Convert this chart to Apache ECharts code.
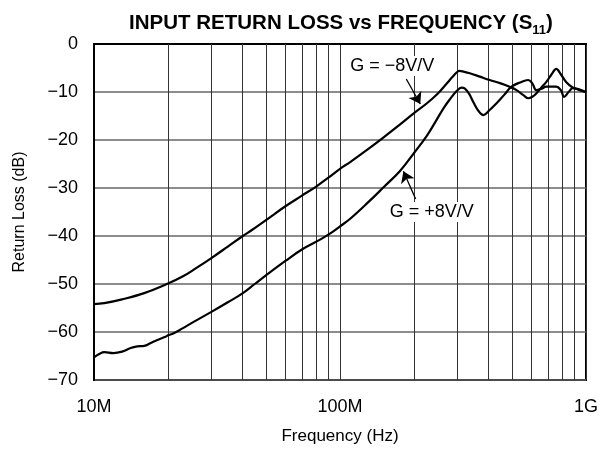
<!DOCTYPE html>
<html>
<head>
<meta charset="utf-8">
<script src="https://cdn.jsdelivr.net/npm/echarts@6/dist/echarts.min.js"></script>
<style>
html,body{margin:0;padding:0;background:#fff;}
#chart{width:601px;height:451px;}
</style>
</head>
<body>
<div id="chart"></div>
<script>
// G = -8V/V curve
var freqMinus8 = [10e6, 11e6, 13e6, 16e6, 20e6, 23e6, 26e6, 30e6, 35e6, 40e6, 44e6, 50e6, 60e6, 70e6, 80e6, 90e6, 100e6, 110e6, 130e6, 150e6, 175e6, 200e6, 225e6, 250e6, 270e6, 285e6, 297e6, 305e6, 315e6, 337e6, 370e6, 406e6, 450e6, 489e6, 522e6, 555e6, 583e6, 605e6, 628e6, 660e6, 690e6, 725e6, 757e6, 790e6, 830e6, 880e6, 930e6, 1000e6];
var rlMinus8 = [-54.2, -54.0, -53.2, -51.9, -49.9, -48.4, -46.7, -44.6, -42.2, -40.1, -38.7, -36.7, -33.8, -31.6, -29.7, -27.8, -26.0, -24.6, -21.9, -19.5, -16.8, -14.4, -12.4, -10.3, -8.4, -7.0, -6.0, -5.6, -5.7, -6.1, -6.8, -7.5, -8.2, -8.9, -9.6, -10.6, -11.3, -11.0, -10.3, -9.0, -7.9, -6.3, -5.2, -6.3, -7.9, -9.0, -9.5, -10];
// G = +8V/V curve
var freqPlus8 = [10e6, 10.5e6, 11e6, 12e6, 13e6, 14e6, 15e6, 16e6, 17e6, 18e6, 19.5e6, 20e6, 21e6, 22.8e6, 25e6, 30e6, 35e6, 40e6, 45e6, 50e6, 60e6, 70e6, 84e6, 93e6, 100e6, 110e6, 130e6, 150e6, 175e6, 200e6, 225e6, 247e6, 265e6, 280e6, 298e6, 312e6, 322e6, 335e6, 349e6, 365e6, 383e6, 405e6, 434e6, 465e6, 498e6, 540e6, 582e6, 605e6, 628e6, 660e6, 690e6, 757e6, 790e6, 815e6, 850e6, 883e6, 930e6, 1000e6];
var rlPlus8 = [-65.3, -64.6, -64.2, -64.4, -64.1, -63.4, -63.0, -62.9, -62.3, -61.7, -61.0, -60.7, -60.3, -59.3, -58.1, -55.8, -53.8, -52.0, -50.0, -48.2, -45.2, -42.8, -40.6, -39.2, -38.0, -36.4, -33.0, -29.9, -26.5, -22.7, -19.2, -15.8, -13.2, -11.5, -9.8, -9.1, -9.3, -10.4, -12.2, -13.9, -14.8, -13.8, -12.3, -10.6, -8.9, -8.0, -7.5, -8.2, -9.6, -9.3, -8.9, -8.9, -9.6, -11.0, -10.0, -9.2, -9.4, -10];
// minor vertical grid lines
var minorFreqs = [20e6, 30e6, 40e6, 50e6, 60e6, 70e6, 80e6, 90e6, 200e6, 300e6, 400e6, 500e6, 600e6, 700e6, 800e6, 900e6];
// x tick labels
var xTickValues = [10e6, 100e6, 1000e6];
var xTickLabels = ['10M', '100M', '1G'];
// annotations (data coordinates)
var labelMinus8 = {text: 'G = \u22128V/V', at: [163e6, -4.6], arrowFrom: [186e6, -7.3], arrowTo: [212e6, -12.5]};
var labelPlus8 = {text: 'G = +8V/V', at: [236e6, -35], arrowFrom: [203e6, -32.3], arrowTo: [181e6, -26.5]};

function zip(a, b) { return a.map(function (v, i) { return [v, b[i]]; }); }

var FONT = '"Liberation Sans", Arial, Helvetica, sans-serif';
var chart = echarts.init(document.getElementById('chart'), null, {renderer: 'canvas'});
var option = {
  animation: false,
  backgroundColor: '#fff',
  title: {
    text: '{m|INPUT RETURN LOSS vs FREQUENCY (S}{s|11}{m|)}',
    left: 336, top: 8, textAlign: 'center',
    textStyle: {
      rich: {
        m: {fontSize: 20.5, fontWeight: 'bold', fontFamily: FONT, color: '#000', lineHeight: 24, verticalAlign: 'top'},
        s: {fontSize: 13, fontWeight: 'bold', fontFamily: FONT, color: '#000', lineHeight: 12, verticalAlign: 'bottom'}
      }
    }
  },
  grid: {left: 94, right: 11, top: 44, bottom: 71, show: true, borderColor: '#000', borderWidth: 2, backgroundColor: 'transparent'},
  xAxis: {
    type: 'log', logBase: 10, min: 1e7, max: 1e9,
    name: 'Frequency (Hz)', nameLocation: 'middle', nameGap: 48,
    nameTextStyle: {fontSize: 17, fontFamily: FONT, color: '#000'},
    axisLine: {show: true, lineStyle: {color: '#000', width: 2}},
    axisTick: {show: false},
    axisLabel: {
      margin: 18, fontSize: 18, fontFamily: FONT, color: '#000',
      formatter: function (v) {
        for (var i = 0; i < xTickValues.length; i++) {
          if (Math.abs(v - xTickValues[i]) / xTickValues[i] < 1e-6) return xTickLabels[i];
        }
        return '';
      }
    },
    splitLine: {show: true, lineStyle: {color: '#333', width: 1}},
    minorTick: {show: false}, minorSplitLine: {show: false}
  },
  yAxis: {
    type: 'value', min: -70, max: 0, interval: 10,
    name: 'Return Loss (dB)', nameLocation: 'middle', nameGap: 66,
    nameTextStyle: {fontSize: 16, fontFamily: FONT, color: '#000'},
    axisLine: {show: true, lineStyle: {color: '#000', width: 2}},
    axisTick: {show: false},
    axisLabel: {
      margin: 16, fontSize: 18, fontFamily: FONT, color: '#000',
      formatter: function (v) { return v < 0 ? '\u2212' + Math.abs(v) : String(v); }
    },
    splitLine: {show: true, lineStyle: {color: '#666', width: 1.5}}
  },
  series: [
    {
      name: 'G = -8V/V', type: 'line', showSymbol: false, smooth: 0.4,
      data: zip(freqMinus8, rlMinus8),
      lineStyle: {color: '#000', width: 2.2}, z: 5,
      markLine: {
        silent: true, symbol: 'none', animation: false,
        label: {show: false},
        lineStyle: {color: '#333', width: 1, type: 'solid'},
        data: minorFreqs.map(function (f) { return {xAxis: f}; })
      }
    },
    {
      name: 'G = +8V/V', type: 'line', showSymbol: false, smooth: 0.4,
      data: zip(freqPlus8, rlPlus8),
      lineStyle: {color: '#000', width: 2.2}, z: 5,
      markLine: {
        silent: true, animation: false, symbol: ['none', 'arrow'], symbolSize: 11,
        label: {show: false},
        lineStyle: {color: '#000', width: 1.3, type: 'solid'},
        itemStyle: {color: '#000'},
        data: [
          [{coord: labelMinus8.arrowFrom}, {coord: labelMinus8.arrowTo}],
          [{coord: labelPlus8.arrowFrom}, {coord: labelPlus8.arrowTo}]
        ]
      },
      markPoint: {
        silent: true, animation: false, symbol: 'circle', symbolSize: 0,
        label: {show: true, position: 'inside', fontSize: 18, fontFamily: FONT, color: '#000', backgroundColor: '#fff', padding: [1, 3]},
        data: [
          {coord: labelMinus8.at, value: labelMinus8.text, label: {formatter: labelMinus8.text}},
          {coord: labelPlus8.at, value: labelPlus8.text, label: {formatter: labelPlus8.text}}
        ]
      }
    }
  ]
};
chart.setOption(option);
</script>
</body>
</html>
